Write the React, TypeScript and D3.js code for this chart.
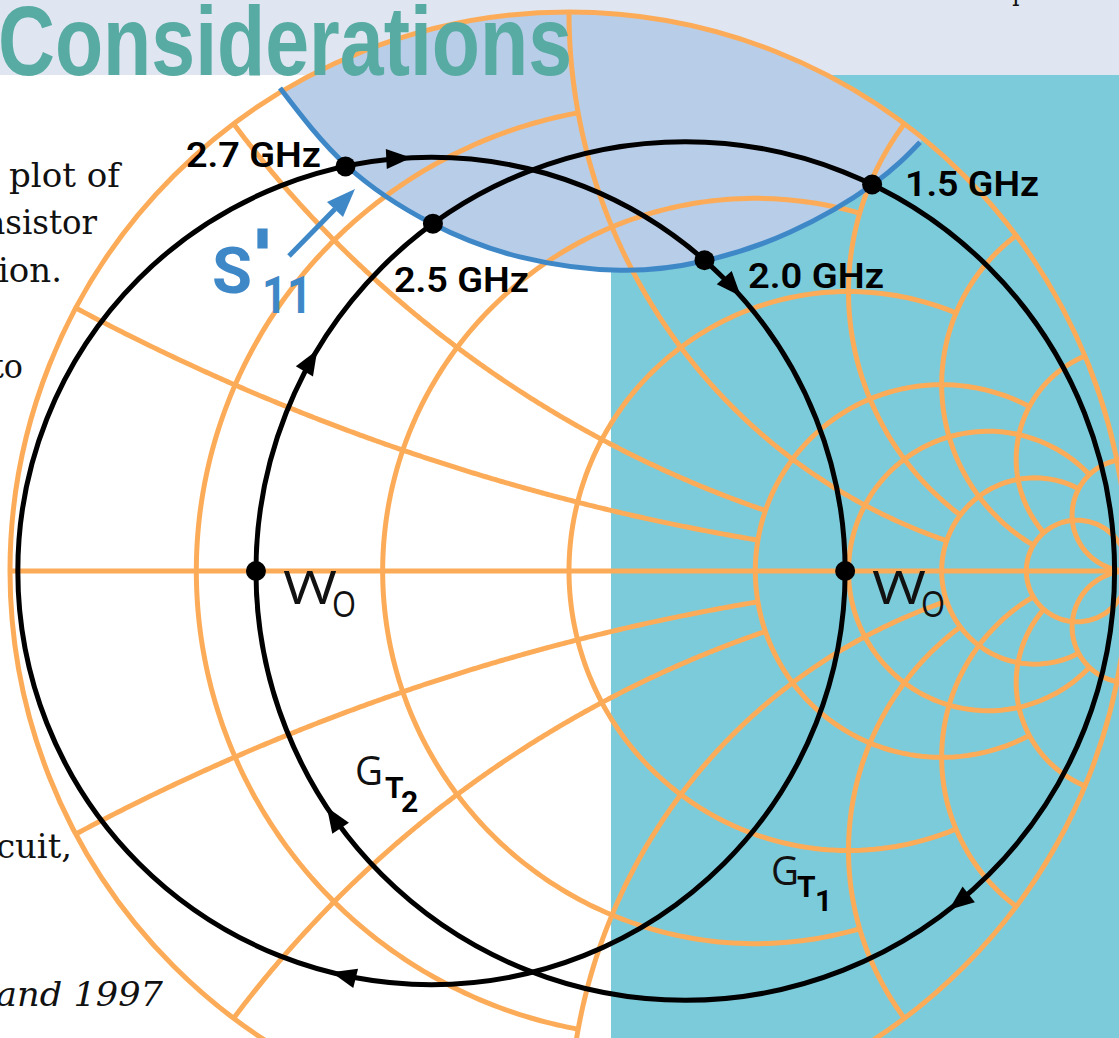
import React from "react";
import * as d3 from "d3";

// Smith chart grid: each constant-resistance arc stops at a reactance, and vice versa
const resistances = [0.2, 0.5, 1, 2, 3, 5, 10];
const resistanceStops = [1, 2, 3, 5, 10, 10, Infinity];
const reactances = [0.25, 0.5, 1, 2, 3, 5, 10];
const reactanceStops = [2, 2, 5, 5, 10, 10, Infinity];

// S'11 locus in reflection-coefficient coordinates
const s11U = [-0.517, -0.397, -0.247, -0.088, 0.091, 0.2415, 0.395, 0.544, 0.628];
const s11V = [0.864, 0.7245, 0.6225, 0.562, 0.538, 0.5546, 0.606, 0.692, 0.767];

// Gain circles
const gainNames = ["T1", "T2"];
const gainCentres = [0.208, -0.246];
const gainRadii = [0.768, 0.74];
const gainArrowAngles = [[149, 213.4, -52.1], [92.8, 41.6, 256]];

// Marked frequency points: which gain circle, and the angle on it
const markerCircle = [0, 1, 1, 0, 1, 0];
const markerAngles = [180, 0, 102, 126, 48.7, 64.2];
const freqLabels = ["2.7 GHz", "2.5 GHz", "2.0 GHz", "1.5 GHz"];

const ORANGE = "#fcac58";
const BLUE = "#3f88c8";
const W = 1119;
const H = 1038;

const sx = d3.scaleLinear().domain([-1, 1]).range([10, 1128]);
const sy = d3.scaleLinear().domain([-1, 1]).range([1130, 12]);

const gamma = (r: number, x: number): [number, number] => {
  const den = (r + 1) * (r + 1) + x * x;
  if (!isFinite(den)) return [1, 0];
  return [(r * r + x * x - 1) / den, (2 * x) / den];
};
const line = d3
  .line<[number, number]>()
  .x((d) => sx(d[0]))
  .y((d) => sy(d[1]));
const N = 260;
const resistanceArc = (r: number, stop: number) =>
  line(
    d3.range(N + 1).map((i) => {
      const t = -Math.atan(stop) + (2 * Math.atan(stop) * i) / N;
      return gamma(r, Math.tan(t));
    })
  )!;
const reactanceArc = (x: number, stop: number, sign: number) =>
  line(
    d3.range(N + 1).map((i) => {
      const t = (Math.atan(stop) * i) / N;
      return gamma(Math.tan(t), sign * x);
    })
  )!;
const onCircle = (c: number, rad: number, deg: number): [number, number] => [
  c + rad * Math.cos((deg * Math.PI) / 180),
  rad * Math.sin((deg * Math.PI) / 180),
];

const s11Pts = s11U.map((u, i) => [u, s11V[i]] as [number, number]);
const s11Path = d3
  .line<[number, number]>()
  .x((d) => sx(d[0]))
  .y((d) => sy(d[1]))
  .curve(d3.curveNatural)(s11Pts)!;
const a0 = Math.atan2(s11V[s11V.length - 1], s11U[s11U.length - 1]);
const a1 = Math.atan2(s11V[0], s11U[0]);
const rimPts = d3.range(81).map((i) => {
  const a = a0 + ((a1 - a0) * i) / 80;
  return [Math.cos(a), Math.sin(a)] as [number, number];
});
const shadePath = s11Path + "L" + line(rimPts)!.slice(1) + "Z";

const arrowHead = (g: number, deg: number) => {
  const c = gainCentres[g];
  const rad = gainRadii[g];
  const [u, v] = onCircle(c, rad, deg);
  const tipX = sx(u);
  const tipY = sy(v);
  const a = (deg * Math.PI) / 180;
  // travel is clockwise on screen
  const dx = Math.sin(a);
  const dy = Math.cos(a);
  const len = 25;
  const hw = 10;
  const bx = tipX - dx * len;
  const by = tipY - dy * len;
  return `M${tipX},${tipY}L${bx - dy * hw},${by + dx * hw}L${bx + dy * hw},${by - dx * hw}Z`;
};

const markers = markerCircle.map((g, i) => onCircle(gainCentres[g], gainRadii[g], markerAngles[i]));

const LABEL = { fontFamily: "Roboto, sans-serif", fontWeight: 600, fontSize: 35 } as const;
const BODY = { fontFamily: "'DejaVu Serif', serif", fontSize: 33, fill: "#111" } as const;
const THIN = { fontFamily: "'Open Sans', sans-serif", fontWeight: 400, fill: "#111" } as const;

export default function App() {
  return (
    <svg
      width={W}
      height={H}
      viewBox={`0 0 ${W} ${H}`}
      style={{ position: "absolute", left: 0, top: 0, display: "block" }}
    >
      <rect x={0} y={0} width={W} height={H} fill="#fff" />
      <rect x={0} y={0} width={W} height={75} fill="#dfe6f1" />
      <rect x={611} y={75} width={W - 611} height={H - 75} fill="#7ccbdb" />
      <path d={shadePath} fill="#b8cde8" />

      <text {...BODY} x={680} y={0} textLength={380} lengthAdjust="spacingAndGlyphs" fontSize={30}>
        circuit measurement techniques
      </text>
      <text {...BODY} x={9} y={187} textLength={111} lengthAdjust="spacingAndGlyphs">plot of</text>
      <text {...BODY} x={-14} y={234} textLength={111} lengthAdjust="spacingAndGlyphs">asistor</text>
      <text {...BODY} x={-36} y={282} textLength={98} lengthAdjust="spacingAndGlyphs">ation.</text>
      <text {...BODY} x={-9} y={378} textLength={32} lengthAdjust="spacingAndGlyphs">to</text>
      <text {...BODY} x={-8} y={652}>.</text>
      <text {...BODY} x={-8} y={708}>.</text>
      <text {...BODY} x={-20} y={858} textLength={92} lengthAdjust="spacingAndGlyphs">rcuit,</text>
      <text {...BODY} x={-4} y={1006} fontStyle="italic" textLength={167} lengthAdjust="spacingAndGlyphs">and 1997</text>

      <g fill="none" stroke={ORANGE} strokeWidth={5}>
        <circle cx={sx(0)} cy={sy(0)} r={sx(1) - sx(0)} />
        <line x1={sx(-1)} x2={sx(1)} y1={sy(0)} y2={sy(0)} />
        {resistances.map((r, i) => (
          <path key={`r${r}`} d={resistanceArc(r, resistanceStops[i])} />
        ))}
        {reactances.map((x, i) => (
          <g key={`x${x}`}>
            <path d={reactanceArc(x, reactanceStops[i], 1)} />
            <path d={reactanceArc(x, reactanceStops[i], -1)} />
          </g>
        ))}
      </g>

      <path d={s11Path} fill="none" stroke={BLUE} strokeWidth={5} />

      <g fill="none" stroke="#000" strokeWidth={5}>
        {gainNames.map((n, i) => (
          <circle key={n} cx={sx(gainCentres[i])} cy={sy(0)} r={sx(gainRadii[i]) - sx(0)} />
        ))}
      </g>
      {gainArrowAngles.map((angles, g) =>
        angles.map((a) => <path key={`${g}-${a}`} d={arrowHead(g, a)} fill="#000" />)
      )}
      {markers.map((m, i) => (
        <circle key={i} cx={sx(m[0])} cy={sy(m[1])} r={10} fill="#000" />
      ))}

      <line x1={289} y1={256} x2={335} y2={209} stroke={BLUE} strokeWidth={5} />
      <path d="M355,189L327,202L343,217Z" fill={BLUE} />
      <text x={212} y={293} fill={BLUE} fontFamily="Roboto, sans-serif" fontWeight={700} fontSize={65}>S</text>
      <text x={253} y={276} fill={BLUE} stroke={BLUE} strokeWidth={3} fontFamily="'DejaVu Sans', sans-serif" fontWeight={700} fontSize={62}>'</text>
      <text x={262} y={313} fill={BLUE} fontFamily="Roboto, sans-serif" fontWeight={700} fontSize={51} textLength={50} lengthAdjust="spacingAndGlyphs">11</text>

      <text {...LABEL} x={186} y={167} textLength={135} lengthAdjust="spacingAndGlyphs">{freqLabels[0]}</text>
      <text {...LABEL} x={394} y={292} textLength={135} lengthAdjust="spacingAndGlyphs">{freqLabels[1]}</text>
      <text {...LABEL} x={748} y={288} textLength={136} lengthAdjust="spacingAndGlyphs">{freqLabels[2]}</text>
      <text {...LABEL} x={905} y={196} textLength={134} lengthAdjust="spacingAndGlyphs">{freqLabels[3]}</text>

      <text {...THIN} x={283} y={604} fontSize={46} textLength={54} lengthAdjust="spacingAndGlyphs">W</text>
      <text {...THIN} x={332} y={617} fontSize={37} textLength={24} lengthAdjust="spacingAndGlyphs">O</text>
      <text {...THIN} x={872} y={604} fontSize={46} textLength={54} lengthAdjust="spacingAndGlyphs">W</text>
      <text {...THIN} x={921} y={617} fontSize={37} textLength={24} lengthAdjust="spacingAndGlyphs">O</text>

      <text {...THIN} x={355} y={785} fontSize={41} textLength={28} lengthAdjust="spacingAndGlyphs">G</text>
      <text x={385} y={798} fontFamily="Roboto, sans-serif" fontWeight={700} fontSize={30}>T</text>
      <text x={401} y={812} fontFamily="Roboto, sans-serif" fontWeight={700} fontSize={30}>2</text>
      <text {...THIN} x={771} y={885} fontSize={41} textLength={28} lengthAdjust="spacingAndGlyphs">G</text>
      <text x={797} y={897} fontFamily="Roboto, sans-serif" fontWeight={700} fontSize={30}>T</text>
      <text x={815} y={911} fontFamily="Roboto, sans-serif" fontWeight={700} fontSize={30}>1</text>

      <text
        x={-2}
        y={75}
        fill="#57aba3"
        fontFamily="'Liberation Sans Narrow', 'Liberation Sans', sans-serif"
        fontWeight={700}
        fontSize={98}
        textLength={574}
        lengthAdjust="spacingAndGlyphs"
      >
        Considerations
      </text>
    </svg>
  );
}
